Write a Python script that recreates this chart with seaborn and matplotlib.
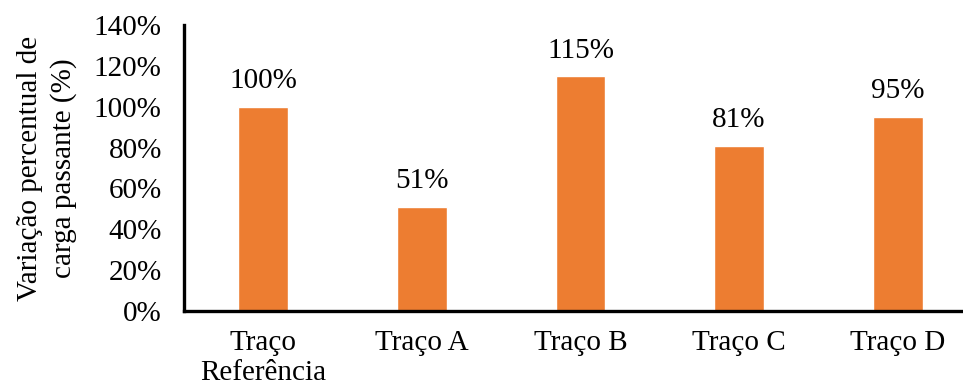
import numpy as np
import pandas as pd
import matplotlib
matplotlib.use('Agg')
import matplotlib.pyplot as plt
import seaborn as sns
from matplotlib.ticker import FuncFormatter

categories = ['Traço\nReferência', 'Traço A', 'Traço B', 'Traço C', 'Traço D']
values = [100, 51, 115, 81, 95]
value_labels = ['100%', '51%', '115%', '81%', '95%']
yticks = [0, 20, 40, 60, 80, 100, 120, 140]

sns.set_style('white')
plt.rcParams['font.family'] = ['Liberation Serif', 'DejaVu Serif']
plt.rcParams['text.color'] = 'black'
plt.rcParams['axes.labelcolor'] = 'black'

FS = 21

df = pd.DataFrame({'cat': categories, 'val': values})

fig = plt.figure(figsize=(9.63, 3.9), dpi=100)
ax = fig.add_axes([184 / 963, 79 / 390, (977 - 184) / 963, (311 - 25) / 390])

sns.barplot(data=df, x='cat', y='val', color='#ED7D31', saturation=1,
            width=0.315, ax=ax)

for i, (v, lab) in enumerate(zip(values, value_labels)):
    ax.annotate(lab, (i, v), xytext=(0, 9), textcoords='offset points',
                ha='center', va='bottom', fontsize=FS, color='black')

ax.set_xlim(-0.5, 4.5)
ax.set_ylim(0, 140)
ax.set_yticks(yticks)
ax.yaxis.set_major_formatter(FuncFormatter(lambda v, p: f'{v:.0f}%'))
ax.tick_params(axis='both', length=0, labelsize=FS, colors='black')
ax.tick_params(axis='y', pad=16)
ax.tick_params(axis='x', pad=14)
for lbl in ax.get_xticklabels():
    lbl.set_linespacing(1.2)

for s in ['top', 'right']:
    ax.spines[s].set_visible(False)
for s in ['left', 'bottom']:
    ax.spines[s].set_color('black')
    ax.spines[s].set_linewidth(2.4)

ax.set_xlabel('')
ax.set_ylabel('Variação percentual de\ncarga passante (%)', fontsize=FS,
              labelpad=12, linespacing=1.35, color='black')

fig.savefig('out.png', dpi=100)
